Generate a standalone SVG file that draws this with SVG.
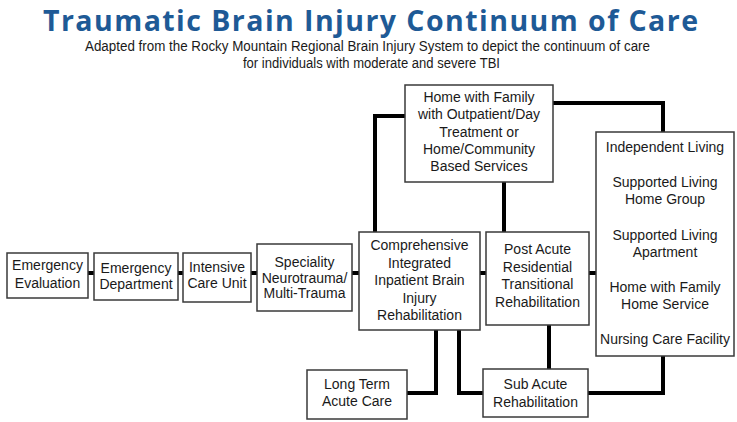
<svg xmlns="http://www.w3.org/2000/svg" width="737" height="422" viewBox="0 0 737 422">
<style>
.box{fill:#fff;stroke:#3a3a3a;stroke-width:1.5}
.t{font-family:"Liberation Sans",Arial,sans-serif;font-size:14px;fill:#1a1a1a;text-anchor:middle}
.c{fill:none;stroke:#000;stroke-width:4}
</style>
<rect width="737" height="422" fill="#fff"/>
<text x="370.5" y="30.5" font-family="'Open Sans',sans-serif" font-weight="bold" font-size="28.5" fill="#1e5a96" text-anchor="middle" textLength="655">Traumatic Brain Injury Continuum of Care</text>
<text x="367.5" y="51" font-family="'Liberation Sans',Arial,sans-serif" font-size="14" fill="#1a1a1a" text-anchor="middle" textLength="565" lengthAdjust="spacingAndGlyphs">Adapted from the Rocky Mountain Regional Brain Injury System to depict the continuum of care</text>
<text x="371.5" y="68" font-family="'Liberation Sans',Arial,sans-serif" font-size="14" fill="#1a1a1a" text-anchor="middle" textLength="257" lengthAdjust="spacingAndGlyphs">for individuals with moderate and severe TBI</text>

<g id="connectors">
<path class="c" d="M88,273H94M178,273H183M251,273H257M352,273H359M480,273H486M589,273H596"/>
<path class="c" d="M405,116H375V232"/>
<path class="c" d="M504,182V232"/>
<path class="c" d="M553,103H663V132"/>
<path class="c" d="M436,330V393H407"/>
<path class="c" d="M459,330V393H483"/>
<path class="c" d="M549,325V369"/>
<path class="c" d="M588,393H663V356"/>
</g>

<g id="emergency-evaluation"><rect class="box" x="7" y="253" width="81" height="45"/><text class="t"><tspan x="47.5" y="270">Emergency</tspan><tspan x="47.5" y="288">Evaluation</tspan></text></g>
<g id="emergency-department"><rect class="box" x="94" y="253" width="84" height="47"/><text class="t"><tspan x="136" y="273">Emergency</tspan><tspan x="136" y="289">Department</tspan></text></g>
<g id="intensive-care"><rect class="box" x="183" y="253" width="68" height="49"/><text class="t"><tspan x="217" y="272">Intensive</tspan><tspan x="217" y="288">Care Unit</tspan></text></g>
<g id="speciality"><rect class="box" x="257" y="244" width="95" height="67"/><text class="t"><tspan x="304.5" y="267">Speciality</tspan><tspan x="304.5" y="283">Neurotrauma/</tspan><tspan x="304.5" y="298">Multi-Trauma</tspan></text></g>
<g id="comprehensive"><rect class="box" x="359" y="232" width="121" height="98"/><text class="t"><tspan x="419.5" y="250">Comprehensive</tspan><tspan x="419.5" y="268">Integrated</tspan><tspan x="419.5" y="285">Inpatient Brain</tspan><tspan x="419.5" y="303">Injury</tspan><tspan x="419.5" y="320">Rehabilitation</tspan></text></g>
<g id="home-with-family"><rect class="box" x="405" y="85" width="148" height="97"/><text class="t"><tspan x="479" y="102">Home with Family</tspan><tspan x="479" y="119">with Outpatient/Day</tspan><tspan x="479" y="137">Treatment or</tspan><tspan x="479" y="154">Home/Community</tspan><tspan x="479" y="171">Based Services</tspan></text></g>
<g id="post-acute"><rect class="box" x="486" y="232" width="103" height="93"/><text class="t"><tspan x="537.5" y="254">Post Acute</tspan><tspan x="537.5" y="272">Residential</tspan><tspan x="537.5" y="289">Transitional</tspan><tspan x="537.5" y="307">Rehabilitation</tspan></text></g>
<g id="living-options"><rect class="box" x="596" y="132" width="138" height="224"/><text class="t"><tspan x="665" y="152">Independent Living</tspan><tspan x="665" y="187">Supported Living</tspan><tspan x="665" y="204">Home Group</tspan><tspan x="665" y="240">Supported Living</tspan><tspan x="665" y="257">Apartment</tspan><tspan x="665" y="292">Home with Family</tspan><tspan x="665" y="309">Home Service</tspan><tspan x="665" y="344">Nursing Care Facility</tspan></text></g>
<g id="long-term-acute"><rect class="box" x="307" y="370" width="100" height="49"/><text class="t"><tspan x="357" y="389">Long Term</tspan><tspan x="357" y="406">Acute Care</tspan></text></g>
<g id="sub-acute"><rect class="box" x="483" y="369" width="105" height="48"/><text class="t"><tspan x="535.5" y="389">Sub Acute</tspan><tspan x="535.5" y="407">Rehabilitation</tspan></text></g>
</svg>
